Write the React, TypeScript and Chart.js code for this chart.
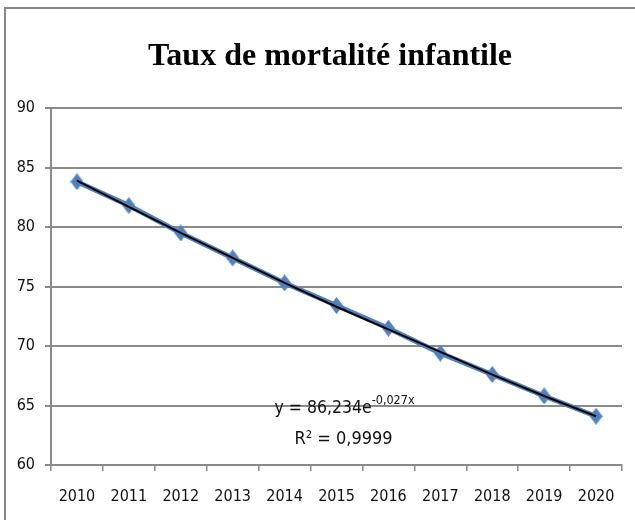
import React, { useEffect, useRef } from "react";
import { Chart, registerables } from "chart.js";

Chart.register(...registerables);

const years = ["2010", "2011", "2012", "2013", "2014", "2015", "2016", "2017", "2018", "2019", "2020"];
const mortality = [83.8, 81.8, 79.5, 77.4, 75.3, 73.4, 71.5, 69.4, 67.6, 65.8, 64.1];
const trendValues = [83.9, 81.7, 79.5, 77.4, 75.3, 73.3, 71.4, 69.5, 67.6, 65.8, 64.1];
const yMin = 60;
const yMax = 90;
const yStep = 5;
const titleText = "Taux de mortalité infantile";
const eqMain = "y = 86,234e";
const eqExp = "-0,027x";
const r2Text = "R² = 0,9999";

const AXIS_FONT = '"DejaVu Sans Condensed", "Liberation Sans Narrow", sans-serif';
const BLUE = "#4F81BD";
const GRID = "#8a8a8a";

function makeDiamond(): HTMLCanvasElement {
  const c = document.createElement("canvas");
  c.width = 13;
  c.height = 17;
  const g = c.getContext("2d")!;
  g.fillStyle = BLUE;
  g.beginPath();
  g.moveTo(6.5, 0);
  g.lineTo(13, 8.5);
  g.lineTo(6.5, 17);
  g.lineTo(0, 8.5);
  g.closePath();
  g.fill();
  return c;
}

const decor = {
  id: "decor",
  beforeDraw(chart: any) {
    const ctx = chart.ctx as CanvasRenderingContext2D;
    ctx.save();
    ctx.strokeStyle = "#878787";
    ctx.lineWidth = 2;
    ctx.beginPath();
    ctx.moveTo(5, 800);
    ctx.lineTo(5, 8);
    ctx.lineTo(800, 8);
    ctx.stroke();
    ctx.restore();
  },
  afterDraw(chart: any) {
    const ctx = chart.ctx as CanvasRenderingContext2D;
    ctx.save();
    ctx.fillStyle = "#000";
    ctx.textBaseline = "alphabetic";
    ctx.textAlign = "center";
    ctx.font = 'bold 32px "Liberation Serif", "Times New Roman", serif';
    ctx.fillText(titleText, 330, 65);

    const xs = chart.scales.x;
    const ys = chart.scales.y;
    const cx = xs.getPixelForValue(5) + 8;
    const base1 = ys.getPixelForValue(65) + 7;
    ctx.textAlign = "left";
    ctx.fillStyle = "#111";
    ctx.font = `17.5px ${AXIS_FONT}`;
    const w1 = ctx.measureText(eqMain).width;
    ctx.font = `12.5px ${AXIS_FONT}`;
    const w2 = ctx.measureText(eqExp).width;
    const start = cx - (w1 + w2) / 2;
    ctx.font = `17.5px ${AXIS_FONT}`;
    ctx.fillText(eqMain, start, base1);
    ctx.font = `12.5px ${AXIS_FONT}`;
    ctx.fillText(eqExp, start + w1, base1 - 9);
    ctx.font = `18px ${AXIS_FONT}`;
    ctx.textAlign = "center";
    ctx.fillText(r2Text, cx - 1, base1 + 31);
    ctx.restore();
  },
};

export default function App() {
  const ref = useRef<HTMLCanvasElement | null>(null);

  useEffect(() => {
    document.body.style.margin = "0";
    const canvas = ref.current!;
    const diamond = makeDiamond();
    const chart = new Chart(canvas, {
      type: "line",
      data: {
        labels: years,
        datasets: [
          {
            label: "Tendance",
            data: trendValues,
            borderColor: "#000",
            borderWidth: 2,
            pointRadius: 0,
            pointHoverRadius: 0,
            tension: 0,
            fill: false,
            order: 0,
          },
          {
            label: "Taux de mortalité infantile",
            data: mortality,
            borderColor: BLUE,
            backgroundColor: BLUE,
            borderWidth: 5,
            pointStyle: diamond as any,
            pointRadius: 8,
            tension: 0,
            fill: false,
            order: 1,
          },
        ],
      },
      options: {
        responsive: false,
        animation: false,
        devicePixelRatio: 1,
        layout: { padding: { top: 108, right: 12, bottom: 0, left: 0 } },
        plugins: {
          legend: { display: false },
          title: { display: false },
          tooltip: { enabled: false },
        },
        scales: {
          x: {
            offset: true,
            grid: {
              offset: true,
              drawOnChartArea: false,
              drawTicks: true,
              tickLength: 6,
              color: GRID,
              lineWidth: 1.5,
            },
            border: { display: true, color: GRID, width: 2 },
            ticks: {
              font: { family: AXIS_FONT, size: 16 },
              color: "#111",
              padding: 16,
              maxRotation: 0,
              autoSkip: false,
            },
            afterFit(scale: any) {
              scale.height = 55;
            },
          },
          y: {
            min: yMin,
            max: yMax,
            grid: {
              color: GRID,
              lineWidth: 2,
              drawTicks: true,
              tickLength: 6,
            },
            border: { display: true, color: GRID, width: 2 },
            ticks: {
              stepSize: yStep,
              font: { family: AXIS_FONT, size: 16 },
              color: "#111",
              padding: 10,
            },
            afterFit(scale: any) {
              scale.width = 51;
            },
          },
        },
      },
      plugins: [decor],
    });
    return () => chart.destroy();
  }, []);

  return <canvas ref={ref} width={635} height={520} style={{ display: "block" }} />;
}
